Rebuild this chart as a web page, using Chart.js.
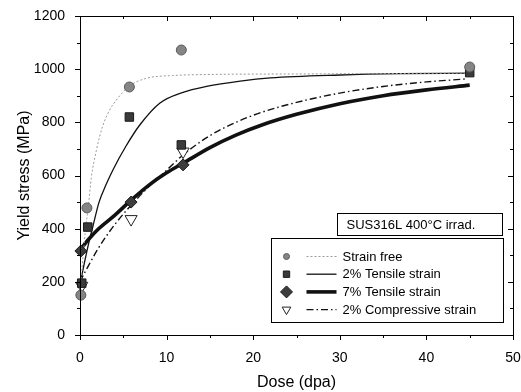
<!DOCTYPE html>
<html>
<head>
<meta charset="UTF-8">
<title>Yield stress vs dose</title>
<script src="https://cdn.jsdelivr.net/npm/chart.js"></script>
<style>
html, body { margin: 0; padding: 0; background: #fff; }
</style>
</head>
<body>
<canvas id="grafico" width="521" height="392"></canvas>
<script>
// measured points (dose in dpa, yield stress in MPa)
const freeDose = [0.1, 0.8, 5.7, 11.7, 45];
const freeStress = [150, 478, 933, 1072, 1008];
const tens2Dose = [0.2, 0.9, 5.7, 11.7, 45];
const tens2Stress = [195, 406, 820, 715, 987];
const tens7Dose = [0.1, 5.9, 11.9];
const tens7Stress = [316, 500, 640];
const comp2Dose = [0.2, 5.9, 11.9];
const comp2Stress = [185, 436, 690];

// fitted curves
const freeFitDose = [0, 0.3, 0.6, 1, 1.3, 1.9, 2.6, 3.4, 4.2, 5.6, 7.6, 10.7, 15, 25, 45];
const freeFitStress = [150, 275, 385, 495, 590, 696, 784, 845, 884, 934, 965, 976, 980, 982, 985];
const tens2FitDose = [0, 0.5, 1, 1.5, 2.2, 3, 3.8, 5.3, 6.9, 9.2, 11.9, 14.6, 18.5, 22, 30, 37, 45];
const tens2FitStress = [190, 270, 345, 410, 500, 565, 621, 710, 790, 872, 913, 935, 955, 967, 978, 983, 985];
const tens7FitDose = [0, 1, 2, 4, 6, 8, 10, 12, 15, 18, 21, 25, 30, 35, 40, 45];
const tens7FitStress = [320, 360, 395, 450, 510, 565, 610, 648, 705, 752, 790, 830, 870, 900, 922, 940];
const comp2FitDose = [0, 0.5, 1, 2, 3, 4, 5, 6, 8, 10, 12, 15, 18, 21, 25, 30, 35, 40, 44.5];
const comp2FitStress = [200, 232, 262, 320, 370, 415, 455, 492, 560, 620, 680, 750, 800, 838, 875, 910, 935, 952, 963];

const xTicks = [0, 10, 20, 30, 40, 50];
const yTicks = [0, 200, 400, 600, 800, 1000, 1200];

const legendLabels = ['Strain free', '2% Tensile strain', '7% Tensile strain', '2% Compressive strain'];
const noteText = 'SUS316L 400°C irrad.';

function pares(xs, ys) {
    return xs.map((x, i) => ({ x: x, y: ys[i] }));
}

Chart.defaults.font.family = '"Liberation Sans", Arial, sans-serif';
Chart.defaults.color = '#000';

const estilos = [
    { ponto: { pointStyle: 'circle', radius: 5, rotation: 0, bg: '#858585', bd: '#5a5a5a' },
      linha: { color: '#9a9a9a', width: 1, dash: [2, 2] }, legR: 3 },
    { ponto: { pointStyle: 'rect', radius: 6, rotation: 0, bg: '#3a3a3a', bd: '#1a1a1a' },
      linha: { color: '#111', width: 1.3, dash: [] }, legR: 4.5 },
    { ponto: { pointStyle: 'rectRot', radius: 6, rotation: 0, bg: '#3c3c3c', bd: '#1a1a1a' },
      linha: { color: '#111', width: 3.6, dash: [] }, legR: 6 },
    { ponto: { pointStyle: 'triangle', radius: 7, rotation: 180, bg: '#fff', bd: '#222' },
      linha: { color: '#111', width: 1.4, dash: [7, 3, 1.5, 3] }, legR: 5 }
];

const medidas = [pares(freeDose, freeStress), pares(tens2Dose, tens2Stress), pares(tens7Dose, tens7Stress), pares(comp2Dose, comp2Stress)];
const ajustes = [pares(freeFitDose, freeFitStress), pares(tens2FitDose, tens2FitStress), pares(tens7FitDose, tens7FitStress), pares(comp2FitDose, comp2FitStress)];

const datasets = [];
ajustes.forEach((d, i) => {
    const l = estilos[i].linha;
    datasets.push({
        data: d, showLine: true, pointRadius: 0, borderColor: l.color, borderWidth: l.width,
        borderDash: l.dash, cubicInterpolationMode: 'monotone', fill: false, order: 2
    });
});
medidas.forEach((d, i) => {
    const p = estilos[i].ponto;
    datasets.push({
        data: d, showLine: false, pointStyle: p.pointStyle, pointRadius: p.radius, pointRotation: p.rotation,
        pointBackgroundColor: p.bg, pointBorderColor: p.bd, pointBorderWidth: 1, clip: false, order: 1
    });
});

// frame, ticks, legend and note box
const moldura = {
    id: 'moldura',
    afterDraw(chart) {
        const ctx = chart.ctx;
        const a = chart.chartArea;
        const sx = chart.scales.x, sy = chart.scales.y;
        ctx.save();
        ctx.strokeStyle = '#000';
        ctx.lineWidth = 1;
        ctx.strokeRect(a.left + 0.5, a.top + 0.5, a.right - a.left, a.bottom - a.top);
        ctx.beginPath();
        for (let v = 0; v <= 50; v += 5) {
            const px = Math.round(sx.getPixelForValue(v)) + 0.5;
            const len = v % 10 === 0 ? 5 : 3;
            ctx.moveTo(px, a.bottom); ctx.lineTo(px, a.bottom + len);
            ctx.moveTo(px, a.top); ctx.lineTo(px, a.top + len);
        }
        for (let v = 0; v <= 1200; v += 100) {
            const py = Math.round(sy.getPixelForValue(v)) + 0.5;
            const len = v % 200 === 0 ? 5 : 3;
            ctx.moveTo(a.left, py); ctx.lineTo(a.left - len, py);
            ctx.moveTo(a.right, py); ctx.lineTo(a.right - len, py);
        }
        ctx.stroke();

        // note box
        ctx.font = '13px "Liberation Sans", Arial, sans-serif';
        ctx.textBaseline = 'middle';
        ctx.textAlign = 'left';
        const nx = a.right - 175.5, ny = a.bottom - 121.5;
        ctx.fillStyle = '#fff';
        ctx.fillRect(nx, ny, 165, 22);
        ctx.strokeRect(nx, ny, 165, 22);
        ctx.fillStyle = '#000';
        ctx.fillText(noteText, nx + 9, ny + 11.5);

        // legend
        const bx = a.right - 241.5, by = a.bottom - 96.5;
        ctx.fillStyle = '#fff';
        ctx.fillRect(bx, by, 232, 84);
        ctx.strokeRect(bx, by, 232, 84);
        legendLabels.forEach((txt, i) => {
            const y = by + 18 + i * 17.7;
            const e = estilos[i];
            ctx.save();
            ctx.strokeStyle = e.linha.color;
            ctx.lineWidth = e.linha.width;
            ctx.setLineDash(e.linha.dash);
            ctx.beginPath();
            ctx.moveTo(bx + 35, y); ctx.lineTo(bx + 65, y);
            ctx.stroke();
            ctx.restore();
            ctx.fillStyle = e.ponto.bg;
            ctx.strokeStyle = e.ponto.bd;
            ctx.lineWidth = 1;
            Chart.helpers.drawPoint(ctx, { pointStyle: e.ponto.pointStyle, radius: e.legR, rotation: e.ponto.rotation, borderWidth: 1 }, bx + 15, y);
            ctx.fillStyle = '#000';
            ctx.fillText(txt, bx + 71, y + 0.5);
        });
        ctx.restore();
    }
};

new Chart(document.getElementById('grafico').getContext('2d'), {
    type: 'scatter',
    data: { datasets: datasets },
    options: {
        responsive: false,
        animation: false,
        layout: { padding: { top: 16, right: 8, left: 0, bottom: 0 } },
        plugins: { legend: { display: false }, tooltip: { enabled: false } },
        scales: {
            x: {
                type: 'linear', min: 0, max: 50,
                afterFit: s => { s.height = 57; s.paddingRight = 0; },
                afterBuildTicks: s => { s.ticks = xTicks.map(v => ({ value: v })); },
                ticks: { font: { size: 14 }, padding: 7, maxRotation: 0, callback: v => String(v) },
                grid: { display: false },
                border: { display: false },
                title: { display: true, text: 'Dose (dpa)', font: { size: 16 }, padding: { top: 4, bottom: 0 } }
            },
            y: {
                type: 'linear', min: 0, max: 1200,
                afterFit: s => { s.width = 80; },
                afterBuildTicks: s => { s.ticks = yTicks.map(v => ({ value: v })); },
                ticks: { font: { size: 14 }, padding: 7, callback: v => String(v) },
                grid: { display: false },
                border: { display: false },
                title: { display: true, text: 'Yield stress (MPa)', font: { size: 16 }, padding: { top: 15, bottom: 0 } }
            }
        }
    },
    plugins: [moldura]
});
</script>
</body>
</html>
